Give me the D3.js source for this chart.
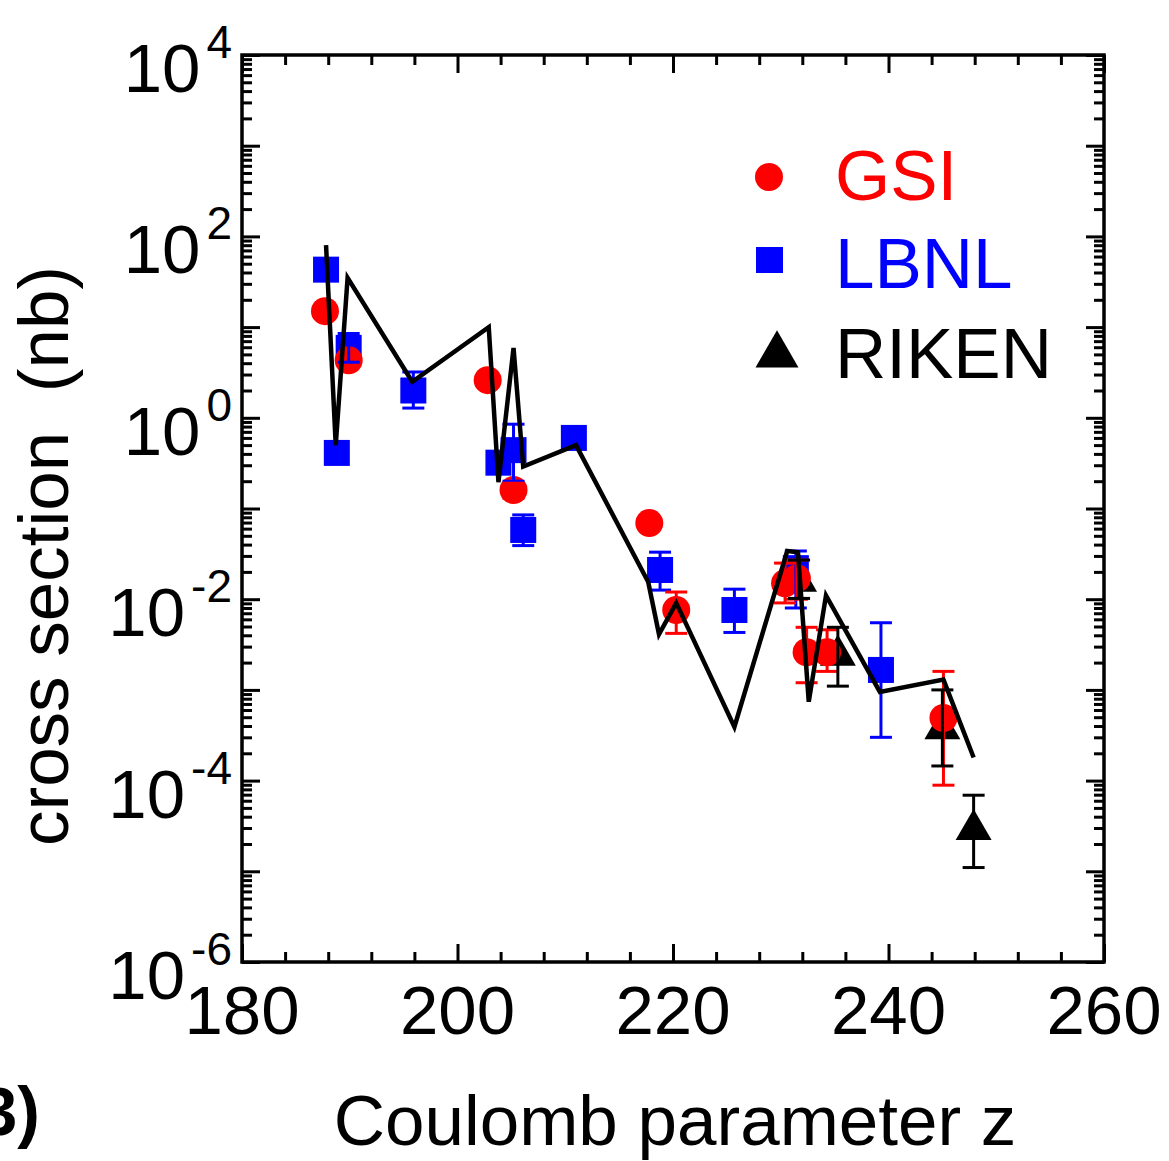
<!DOCTYPE html>
<html>
<head>
<meta charset="utf-8">
<script src="https://cdn.jsdelivr.net/npm/d3@7"></script>
<style>
  body { margin: 0; background: #fff; }
  svg text { font-family: "Liberation Sans", Arial, sans-serif; }
</style>
</head>
<body>
<div id="plot"></div>
<script>
// GSI (red circles)
var gsiZ   = [187.7, 189.9, 202.8, 205.2, 217.8, 220.3, 230.4, 231.5, 232.4, 234.3, 245.1];
var gsiS   = [15, 4.3, 2.6, 0.16, 0.069, 0.0076, 0.015, 0.017, 0.0026, 0.0026, 0.00049];
var gsiLo  = [null, null, null, 0.13, null, 0.0042, 0.0091, 0.010, 0.0012, 0.0016, 0.000089];
var gsiHi  = [null, null, null, 0.19, null, 0.012, 0.025, 0.027, 0.0049, 0.0046, 0.0016];

// LBNL (blue squares)
var lbnlZ  = [187.8, 188.8, 189.9, 195.9, 203.8, 205.2, 206.1, 210.8, 218.8, 225.7, 231.4, 239.3];
var lbnlS  = [43, 0.41, 5.9, 2.0, 0.32, 0.44, 0.058, 0.60, 0.021, 0.0076, 0.022, 0.00166];
var lbnlLo = [null, null, 4.1, 1.28, null, 0.2, 0.039, null, 0.0126, 0.0043, 0.0080, 0.00030];
var lbnlHi = [null, null, 8.5, 3.2, null, 0.85, 0.085, null, 0.033, 0.0129, 0.034, 0.0055];

// RIKEN (black triangles)
var rikenZ  = [231.7, 235.3, 245.0, 247.9];
var rikenS  = [0.017, 0.0026, 0.0004, 0.000031];
var rikenLo = [0.0102, 0.0011, 0.000145, 0.000011];
var rikenHi = [0.027, 0.0049, 0.0010, 0.000069];

// theory curve
var theoryZ = [187.8, 188.7, 189.8, 195.8, 202.9, 203.8, 205.2, 206.1, 211.0, 217.7, 218.7, 220.3, 225.7, 230.6, 231.6, 232.6, 234.2, 239.2, 245.1, 247.9];
var theoryS = [80, 0.50, 35, 2.5, 10, 0.195, 5.9, 0.29, 0.50, 0.0155, 0.0041, 0.0091, 0.00039, 0.034, 0.033, 0.00074, 0.011, 0.00095, 0.0013, 0.00018];

var xTicks = [180, 200, 220, 240, 260];
var yExps  = [4, 2, 0, -2, -4, -6];

function drawChart() {
    var W = 1169, H = 1161;
    var mLeft = 242, mRight = 1104, mTop = 55, mBottom = 962;

    var svg = d3.select("#plot").append("svg")
        .attr("width", W).attr("height", H);

    var x = d3.scaleLinear().domain([180, 260]).range([mLeft, mRight]);
    var y = d3.scaleLog().domain([1e-6, 1e4]).range([mBottom, mTop]);

    // tick lists
    var xMinor = d3.range(180, 261, 4).filter(function (v) { return v % 20 !== 0; });
    var yMajor = d3.range(-6, 5).map(function (e) { return Math.pow(10, e); });
    var yMinor = [];
    d3.range(-6, 4).forEach(function (e) {
        for (var k = 2; k <= 9; k++) yMinor.push(k * Math.pow(10, e));
    });

    function styleAxis(g) {
        g.select(".domain").remove();
        g.selectAll(".tick line").attr("stroke", "#000").attr("stroke-width", 3);
        g.selectAll(".tick text").remove();
    }

    var majorLen = 18, minorLen = 10;

    // bottom / top
    svg.append("g").attr("transform", "translate(0," + mBottom + ")")
        .call(d3.axisBottom(x).tickValues(xTicks).tickSize(-majorLen)).call(styleAxis);
    svg.append("g").attr("transform", "translate(0," + mBottom + ")")
        .call(d3.axisBottom(x).tickValues(xMinor).tickSize(-minorLen)).call(styleAxis);
    svg.append("g").attr("transform", "translate(0," + mTop + ")")
        .call(d3.axisTop(x).tickValues(xTicks).tickSize(-majorLen)).call(styleAxis);
    svg.append("g").attr("transform", "translate(0," + mTop + ")")
        .call(d3.axisTop(x).tickValues(xMinor).tickSize(-minorLen)).call(styleAxis);
    // left / right
    svg.append("g").attr("transform", "translate(" + mLeft + ",0)")
        .call(d3.axisLeft(y).tickValues(yMajor).tickSize(-majorLen)).call(styleAxis);
    svg.append("g").attr("transform", "translate(" + mLeft + ",0)")
        .call(d3.axisLeft(y).tickValues(yMinor).tickSize(-minorLen)).call(styleAxis);
    svg.append("g").attr("transform", "translate(" + mRight + ",0)")
        .call(d3.axisRight(y).tickValues(yMajor).tickSize(-majorLen)).call(styleAxis);
    svg.append("g").attr("transform", "translate(" + mRight + ",0)")
        .call(d3.axisRight(y).tickValues(yMinor).tickSize(-minorLen)).call(styleAxis);

    // frame
    svg.append("rect")
        .attr("x", mLeft).attr("y", mTop)
        .attr("width", mRight - mLeft).attr("height", mBottom - mTop)
        .attr("fill", "none").attr("stroke", "#000").attr("stroke-width", 3.5);

    // x tick labels
    svg.append("g").selectAll("text").data(xTicks).enter().append("text")
        .attr("x", function (d) { return x(d); })
        .attr("y", 1034)
        .attr("text-anchor", "middle")
        .attr("font-size", 69)
        .text(function (d) { return d; });

    // y tick labels with superscript exponents
    var yl = svg.append("g").selectAll("text").data(yExps).enter().append("text")
        .attr("x", 232)
        .attr("y", function (d) { return y(Math.pow(10, d)) + 37; })
        .attr("text-anchor", "end")
        .attr("font-size", 69);
    yl.append("tspan").text("10");
    yl.append("tspan").attr("font-size", 46).attr("dx", 6).attr("dy", -34)
        .text(function (d) { return d < 0 ? "-" + (-d) : d; });

    // axis titles
    svg.append("text")
        .attr("x", 675).attr("y", 1145)
        .attr("text-anchor", "middle")
        .attr("font-size", 71)
        .text("Coulomb parameter z");
    svg.append("text")
        .attr("transform", "translate(68,556) rotate(-90)")
        .attr("text-anchor", "middle")
        .attr("font-size", 71)
        .style("white-space", "pre")
        .text("cross section  (nb)");
    svg.append("text")
        .attr("x", 40).attr("y", 1135)
        .attr("text-anchor", "end")
        .attr("font-size", 68)
        .attr("font-weight", "bold")
        .text("3)");

    // data helpers
    function rows(zs, ss, lo, hi) {
        return zs.map(function (z, i) {
            return { z: z, s: ss[i], lo: lo ? lo[i] : null, hi: hi ? hi[i] : null };
        });
    }
    var gsi = rows(gsiZ, gsiS, gsiLo, gsiHi);
    var lbnl = rows(lbnlZ, lbnlS, lbnlLo, lbnlHi);
    var riken = rows(rikenZ, rikenS, rikenLo, rikenHi);

    var RED = "#ff0000", BLUE = "#0000ff";
    var triangle = d3.symbol().type(d3.symbolTriangle).size(560);

    // markers
    svg.append("g").selectAll("path").data(riken).enter().append("path")
        .attr("d", triangle)
        .attr("transform", function (d) { return "translate(" + x(d.z) + "," + (y(d.s) + 3) + ")"; })
        .attr("fill", "#000");
    svg.append("g").selectAll("rect").data(lbnl).enter().append("rect")
        .attr("x", function (d) { return x(d.z) - 13; })
        .attr("y", function (d) { return y(d.s) - 13; })
        .attr("width", 26).attr("height", 26)
        .attr("fill", BLUE);
    svg.append("g").selectAll("circle").data(gsi).enter().append("circle")
        .attr("cx", function (d) { return x(d.z); })
        .attr("cy", function (d) { return y(d.s); })
        .attr("r", 14)
        .attr("fill", RED);

    // error bars
    function errBars(data, color) {
        var g = svg.append("g").attr("stroke", color).attr("stroke-width", 3);
        var d2 = data.filter(function (d) { return d.lo != null; });
        g.selectAll("line.v").data(d2).enter().append("line")
            .attr("class", "v")
            .attr("x1", function (d) { return x(d.z); }).attr("x2", function (d) { return x(d.z); })
            .attr("y1", function (d) { return y(d.lo); }).attr("y2", function (d) { return y(d.hi); });
        ["lo", "hi"].forEach(function (k) {
            g.selectAll("line." + k).data(d2).enter().append("line")
                .attr("class", k)
                .attr("x1", function (d) { return x(d.z) - 11; }).attr("x2", function (d) { return x(d.z) + 11; })
                .attr("y1", function (d) { return y(d[k]); }).attr("y2", function (d) { return y(d[k]); });
        });
    }
    errBars(lbnl, BLUE);
    errBars(gsi, RED);
    errBars(riken, "#000");

    // theory line
    var line = d3.line()
        .x(function (d, i) { return x(theoryZ[i]); })
        .y(function (d) { return y(d); });
    svg.append("path")
        .datum(theoryS)
        .attr("d", line)
        .attr("fill", "none")
        .attr("stroke", "#000")
        .attr("stroke-width", 4.5)
        .attr("stroke-linejoin", "miter");

    // legend
    var lg = svg.append("g");
    lg.append("circle").attr("cx", 769).attr("cy", 177).attr("r", 14).attr("fill", RED);
    lg.append("rect").attr("x", 756).attr("y", 247).attr("width", 27).attr("height", 26).attr("fill", BLUE);
    lg.append("path").attr("d", d3.symbol().type(d3.symbolTriangle).size(800))
        .attr("transform", "translate(777,355)").attr("fill", "#000");
    var legendNames = ["GSI", "LBNL", "RIKEN"];
    var legendColors = [RED, BLUE, "#000"];
    var legendY = [200, 288, 378];
    lg.selectAll("text").data(legendNames).enter().append("text")
        .attr("x", 835)
        .attr("y", function (d, i) { return legendY[i]; })
        .attr("font-size", 71)
        .attr("fill", function (d, i) { return legendColors[i]; })
        .text(function (d) { return d; });
}

drawChart();
</script>
</body>
</html>
